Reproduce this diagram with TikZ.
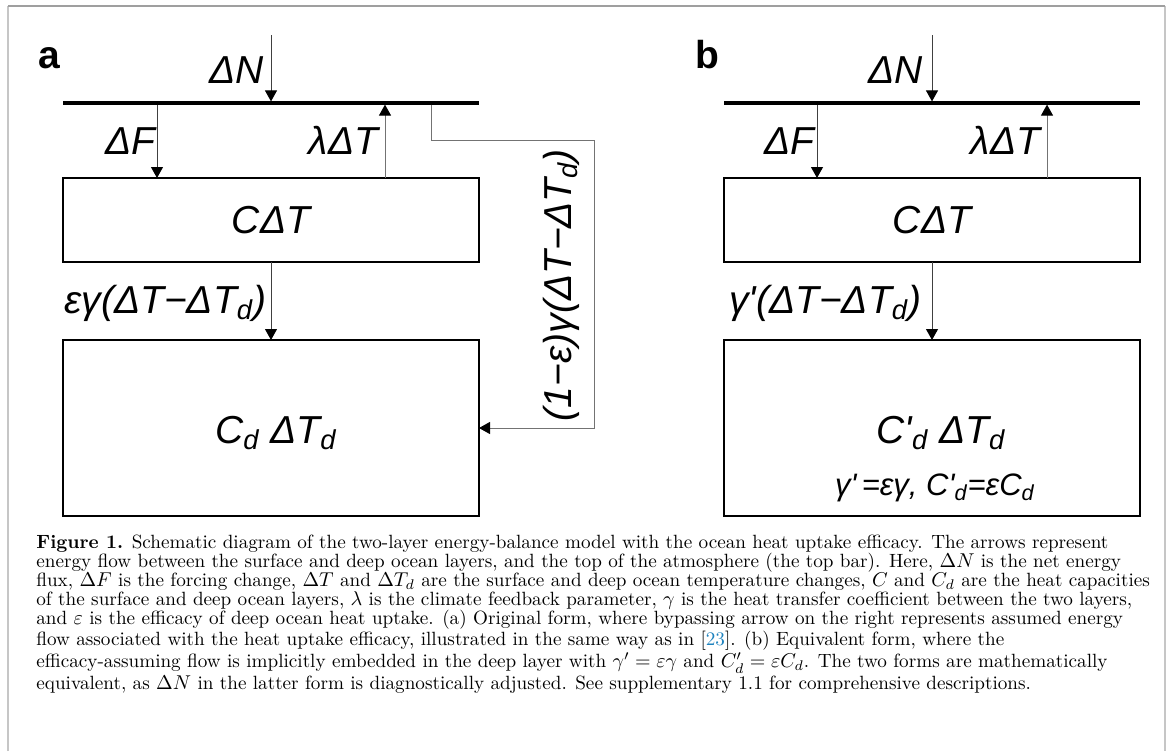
\documentclass[tikz,border=0pt]{standalone}
\usepackage{fontspec}
\newfontfamily\labfont{Liberation Sans}
\usetikzlibrary{arrows.meta}
\definecolor{citeblue}{RGB}{30,130,190}
\begin{document}
\begin{tikzpicture}[x=0.5pt,y=-0.5pt,
  lab/.style={font=\labfont\itshape\fontsize{19.5}{23}\selectfont, inner sep=0pt, outer sep=0pt},
  smalllab/.style={font=\labfont\itshape\fontsize{15.5}{18}\selectfont, inner sep=0pt, outer sep=0pt},
  panel/.style={font=\labfont\bfseries\fontsize{19.5}{23}\selectfont, inner sep=0pt},
  bar/.style={fill=black, draw=none, minimum width=208pt, minimum height=1.6pt, inner sep=0pt, outer sep=0pt},
  layer/.style={draw=black, line width=1pt, minimum width=208pt, inner sep=0pt, outer sep=0pt,
    font=\labfont\itshape\fontsize{19.5}{23}\selectfont},
  flow/.style={draw=black!75, line width=0.5pt, -{Triangle[length=5.5pt,width=6pt,color=black]}},
  captxt/.style={font=\fontsize{9.58}{9.5}\selectfont, inner sep=0pt, align=left}]
\useasboundingbox (0,0) rectangle (1171,751);
% frame
\draw[gray!45, line width=0.8pt] (8,751) -- (8,6);
\draw[gray!45, line width=1pt] (1165,6) -- (1165,751);
\draw[gray!75, line width=0.6pt] (8,6) -- (1165,6);

% ---------- panel a ----------
\node[panel, anchor=base west] (pA) at (38,68) {a};
\node[bar] (barA) at (271,103) {};
\node[layer, minimum height=42pt] (surfA) at (271,220) {CΔT};
\node[layer, minimum height=88pt] (deepA) at (271,428) {};
\node[lab, anchor=base] (tDA) at (276,443) {C\textsubscript{d} ΔT\textsubscript{d}};
\coordinate (nA) at (271,35);
\coordinate (fA) at (157,0);
\coordinate (lA) at (385,0);
\coordinate (bA) at (431,0);
\coordinate (cA) at (594,140);
\draw[flow] (nA) -- (barA.north);
\draw[flow] (barA.south -| fA) -- (surfA.north -| fA);
\draw[flow, draw=black!55] (surfA.north -| lA) -- (barA.south -| lA);
\draw[flow] (surfA.south) -- (deepA.north);
\draw[flow, draw=black!55] (barA.south -| bA) |- (cA) |- (deepA.east);
\node[lab, anchor=base east] (tNA) at (264,83) {ΔN};
\node[lab, anchor=base east] (tFA) at (155,154) {ΔF};
\node[lab, anchor=base east] (tLA) at (378,154) {λΔT};
\node[lab, anchor=base east] (tEA) at (266,313) {εγ(ΔT−ΔT\textsubscript{d})};
\node[lab, anchor=base, rotate=90] (tBA) at (571,285) {(1−ε)γ(ΔT−ΔT\textsubscript{d})};

% ---------- panel b ----------
\node[panel, anchor=base west] (pB) at (695,68) {b};
\node[bar] (barB) at (932,103) {};
\node[layer, minimum height=42pt] (surfB) at (932,220) {CΔT};
\node[layer, minimum height=88pt] (deepB) at (932,428) {};
\node[lab, anchor=base] (tDB) at (941,443) {C\textquotesingle\textsubscript{d} ΔT\textsubscript{d}};
\node[smalllab, anchor=base] (tRB) at (935,495) {γ\textquotesingle\,=εγ, C\textquotesingle\textsubscript{d}=εC\textsubscript{d}};
\coordinate (nB) at (932,35);
\coordinate (fB) at (817,0);
\coordinate (lB) at (1047,0);
\draw[flow] (nB) -- (barB.north);
\draw[flow] (barB.south -| fB) -- (surfB.north -| fB);
\draw[flow, draw=black!55] (surfB.north -| lB) -- (barB.south -| lB);
\draw[flow] (surfB.south) -- (deepB.north);
\node[lab, anchor=base east] (tNB) at (923,83) {ΔN};
\node[lab, anchor=base east] (tFB) at (814,154) {ΔF};
\node[lab, anchor=base east] (tLB) at (1040,154) {λΔT};
\node[lab, anchor=base east] (tEB) at (921,313) {γ\textquotesingle(ΔT−ΔT\textsubscript{d})};

% ---------- caption (anchored at the baseline of its last line) ----------
\node[captxt, anchor=base west] (caption) at (36,689) {\lineskiplimit=-20pt\textbf{Figure 1.} Schematic diagram of the two-layer energy-balance model with the ocean heat uptake efficacy. The arrows represent\\
energy flow between the surface and deep ocean layers, and the top of the atmosphere (the top bar). Here, $\Delta N$ is the net energy\\
flux, $\Delta F$ is the forcing change, $\Delta T$ and $\Delta T_d$ are the surface and deep ocean temperature changes, $C$ and $C_d$ are the heat capacities\\
of the surface and deep ocean layers, $\lambda$ is the climate feedback parameter, $\gamma$ is the heat transfer coefficient between the two layers,\\
and $\varepsilon$ is the efficacy of deep ocean heat uptake. (a) Original form, where bypassing arrow on the right represents assumed energy\\
flow associated with the heat uptake efficacy, illustrated in the same way as in [{\color{citeblue}23}]. (b) Equivalent form, where the\\
efficacy-assuming flow is implicitly embedded in the deep layer with $\gamma' = \varepsilon\gamma$ and $C'_d = \varepsilon C_d$. The two forms are mathematically\\
equivalent, as $\Delta N$ in the latter form is diagnostically adjusted. See supplementary 1.1 for comprehensive descriptions.};
\end{tikzpicture}
\end{document}
